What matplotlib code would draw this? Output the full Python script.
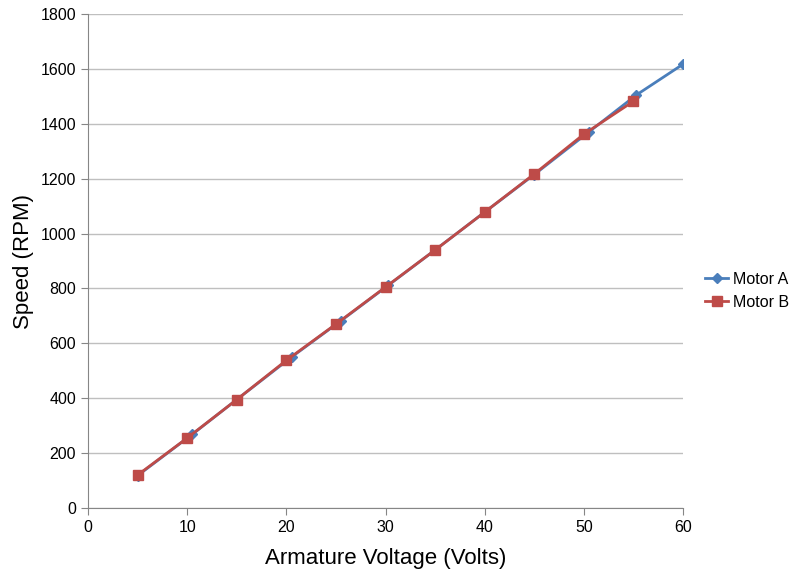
import matplotlib.pyplot as plt

plt.rcParams['font.family'] = ['Liberation Sans', 'DejaVu Sans']

# --- データ ---
volts_a = [5, 10.5, 15, 20.6, 25.5, 30.3, 35, 40, 45, 50.5, 55.3, 60]
rpm_a = [118, 268, 395, 552, 682, 812, 940, 1078, 1215, 1370, 1505, 1617]
volts_b = [5, 10, 15, 20, 25, 30, 35, 40, 45, 50, 55]
rpm_b = [120, 255, 395, 538, 670, 805, 940, 1078, 1217, 1362, 1482]

fig = plt.figure(figsize=(7.93, 5.75), dpi=100)
ax = fig.add_axes([88 / 793, 1 - 508 / 575, 595 / 793, 494 / 575])

ax.plot(volts_a, rpm_a, color='#4A7EBB', lw=2, marker='D', markersize=5, label='Motor A')
ax.plot(volts_b, rpm_b, color='#BE4B48', lw=2, marker='s', markersize=7, label='Motor B')

ax.set_xlim(0, 60)
ax.set_ylim(0, 1800)
ax.set_xticks(range(0, 61, 10))
ax.set_yticks(range(0, 1801, 200))
ax.grid(True, axis='y', color='#BFBFBF', lw=1)
ax.set_axisbelow(True)
for s in ['top', 'right']:
    ax.spines[s].set_visible(False)
for s in ['left', 'bottom']:
    ax.spines[s].set_color('#868686')
ax.tick_params(colors='#868686', labelcolor='black', labelsize=11.5, length=5)
ax.tick_params(axis='x', pad=4)

ax.set_xlabel('Armature Voltage (Volts)', fontsize=16, labelpad=9)
ax.set_ylabel('Speed (RPM)', fontsize=16, labelpad=5)

ax.legend(loc='center left', bbox_to_anchor=(705 / 793, 1 - 291 / 575),
          bbox_transform=fig.transFigure, frameon=False, fontsize=11.5,
          handlelength=1.45, handletextpad=0.3, borderaxespad=0, borderpad=0)

fig.savefig('out.png', dpi=100)
